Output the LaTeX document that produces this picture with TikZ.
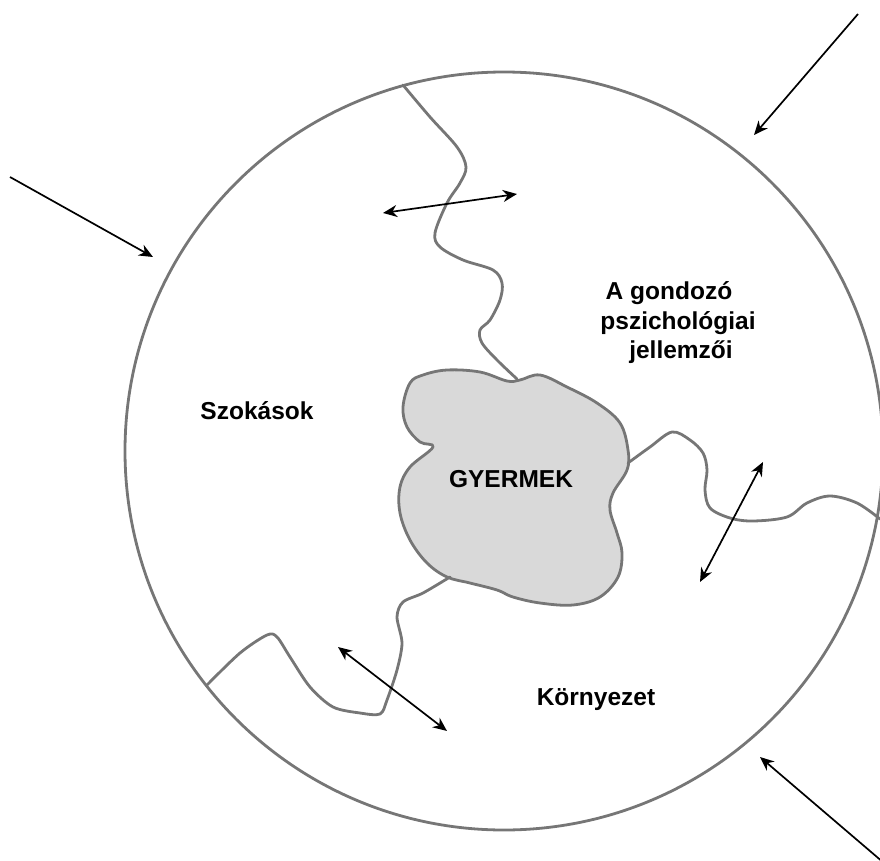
\documentclass[tikz,border=0pt]{standalone}
\usepackage{fontspec}
\setmainfont{Liberation Sans}
\usetikzlibrary{arrows.meta}
\definecolor{edgegray}{HTML}{767676}
\definecolor{blobgray}{HTML}{D9D9D9}
\begin{document}
\begin{tikzpicture}[x=1pt,y=-1pt,
  region/.style={draw=edgegray,line width=2.8pt,line join=round,line cap=round},
  influence/.style={draw=black,line width=1.7pt,-{Stealth[length=14pt,width=12pt,inset=4.5pt]}},
  exchange/.style={draw=black,line width=1.7pt,{Stealth[length=14pt,width=12pt,inset=4.5pt]}-{Stealth[length=14pt,width=12pt,inset=4.5pt]}},
  lbl/.style={font=\bfseries\fontsize{24.5}{29.5}\selectfont,text=black,inner sep=0pt}]
\useasboundingbox (0,0) rectangle (880,861);
\begin{scope}
\clip (0,0) rectangle (880,861);
% outer circle
\draw[region] (504,451) circle[radius=379];
% the child in the middle
\draw[region,fill=blobgray] plot[smooth cycle,tension=0.6] coordinates {
  (423,375) (447,370) (480,372) (507,381) (520,380) (540,375) (567,387)
  (597,403) (620,423) (628,450) (627,470) (613,493) (610,510) (617,533)
  (622,553) (618,577) (600,597) (573,605) (540,603) (513,597) (497,590)
  (470,583) (447,577) (427,563) (410,540) (400,513) (400,487) (410,467)
  (433,447) (420,442) (407,427) (403,407) (410,383)};
% borders between the three areas
\draw[region] plot[smooth,tension=0.55] coordinates {
  (403,85) (430,117) (457,147) (466,167) (460,183) (447,203) (435,233)
  (440,247) (463,260) (493,270) (502,283) (500,300) (490,320) (480,330)
  (482,343) (497,360) (517,379)};
\draw[region] plot[smooth,tension=0.55] coordinates {
  (628,463) (650,447) (672,432) (690,440) (703,453) (707,470) (705,490)
  (710,508) (730,518) (753,521) (787,517) (807,503) (830,496) (857,503)
  (880,519)};
\draw[region] plot[smooth,tension=0.5] coordinates {
  (450,577) (423,593) (403,602) (397,617) (402,643) (397,670) (387,700)
  (380,714) (360,713) (333,707) (310,687) (290,657) (277,637) (267,635)
  (240,653) (207,685)};
% outside influences
\coordinate (trS) at (858,14);  \coordinate (trE) at (754,135);
\coordinate (lS)  at (10,177);  \coordinate (lE)  at (153,257);
\coordinate (brS) at (884,863); \coordinate (brE) at (760,757);
\draw[influence] (trS) -- (trE);
\draw[influence] (lS) -- (lE);
\draw[influence] (brS) -- (brE);
\end{scope}
% exchanges across the borders
\coordinate (tA) at (383,213); \coordinate (tB) at (517,194);
\coordinate (rA) at (763,462); \coordinate (rB) at (700,582);
\coordinate (bA) at (338,647); \coordinate (bB) at (447,731);
\draw[exchange] (tA) -- (tB);
\draw[exchange] (rA) -- (rB);
\draw[exchange] (bA) -- (bB);
% labels
\node[lbl,anchor=base] (child) at (511,487) {GYERMEK};
\node[lbl,anchor=base] (habits) at (257,419) {Szokások};
\node[lbl,anchor=base] (env) at (596,705) {Környezet};
\node[lbl,align=center] (carer) at (678,323) {A gondozó\hspace*{18pt}\\pszichológiai\\\hspace*{6pt}jellemzői};
\end{tikzpicture}
\end{document}
